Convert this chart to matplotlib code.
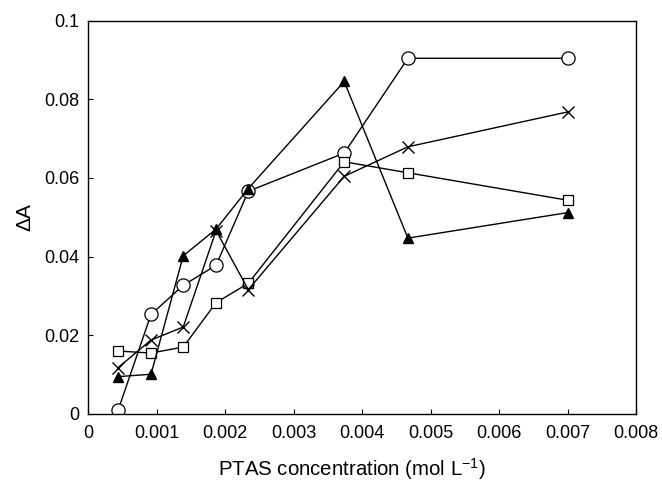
import numpy as np
import matplotlib
matplotlib.use("Agg")
import matplotlib.pyplot as plt

plt.rcParams["font.family"] = ["Liberation Sans", "DejaVu Sans"]
plt.rcParams["mathtext.fontset"] = "custom"
plt.rcParams["mathtext.rm"] = "Liberation Sans"

# PTAS concentration (mol/L)
conc = [0.00044, 0.00092, 0.00139, 0.00187, 0.00234, 0.00374, 0.00467, 0.00701]

# change in absorbance for each series
dA_circle = [0.001, 0.0253, 0.0327, 0.0378, 0.0566, 0.0663, 0.0904, 0.0904]
dA_square = [0.0160, 0.0155, 0.0170, 0.0283, 0.0332, 0.0641, 0.0613, 0.0543]
dA_triangle = [0.0095, 0.0101, 0.0402, 0.0470, 0.0573, 0.0845, 0.0447, 0.0512]
dA_cross = [0.0118, 0.0188, 0.0221, 0.0466, 0.0316, 0.0604, 0.0679, 0.0768]

fig = plt.figure(figsize=(6.62, 4.83), dpi=100)
ax = fig.add_axes([88/662, 1-414/483, (636-88)/662, (414-20.5)/483])

lw = 1.0
ax.plot(conc, dA_circle, "-o", color="black", lw=lw, mfc="white", mec="black", ms=9.5, mew=0.9)
ax.plot(conc, dA_square, "-s", color="black", lw=lw, mfc="white", mec="black", ms=7, mew=0.9)
ax.plot(conc, dA_triangle, "-^", color="black", lw=lw, mfc="black", mec="black", ms=6.5)
ax.plot(conc, dA_cross, "-x", color="black", lw=lw, mec="black", ms=9, mew=1.0)

ax.set_xlim(0, 0.008)
ax.set_ylim(0, 0.1)
ax.set_xticks(np.arange(0, 0.0081, 0.001))
ax.set_xticklabels(["0", "0.001", "0.002", "0.003", "0.004", "0.005", "0.006", "0.007", "0.008"])
ax.set_yticks(np.arange(0, 0.101, 0.02))
ax.set_yticklabels(["0", "0.02", "0.04", "0.06", "0.08", "0.1"])
for s in ax.spines.values():
    s.set_linewidth(1.0)
ax.tick_params(direction="in", length=3.5, width=0.8, labelsize=13, colors="black")
ax.tick_params(axis="x", pad=8)
ax.tick_params(axis="y", pad=6)
ax.set_xlabel("PTAS concentration (mol L$^{-1}$)", fontsize=14.7)
ax.xaxis.set_label_coords(0.482, -0.108)
ax.set_ylabel("ΔA", fontsize=15, labelpad=7)

fig.savefig("out.png", dpi=100)
